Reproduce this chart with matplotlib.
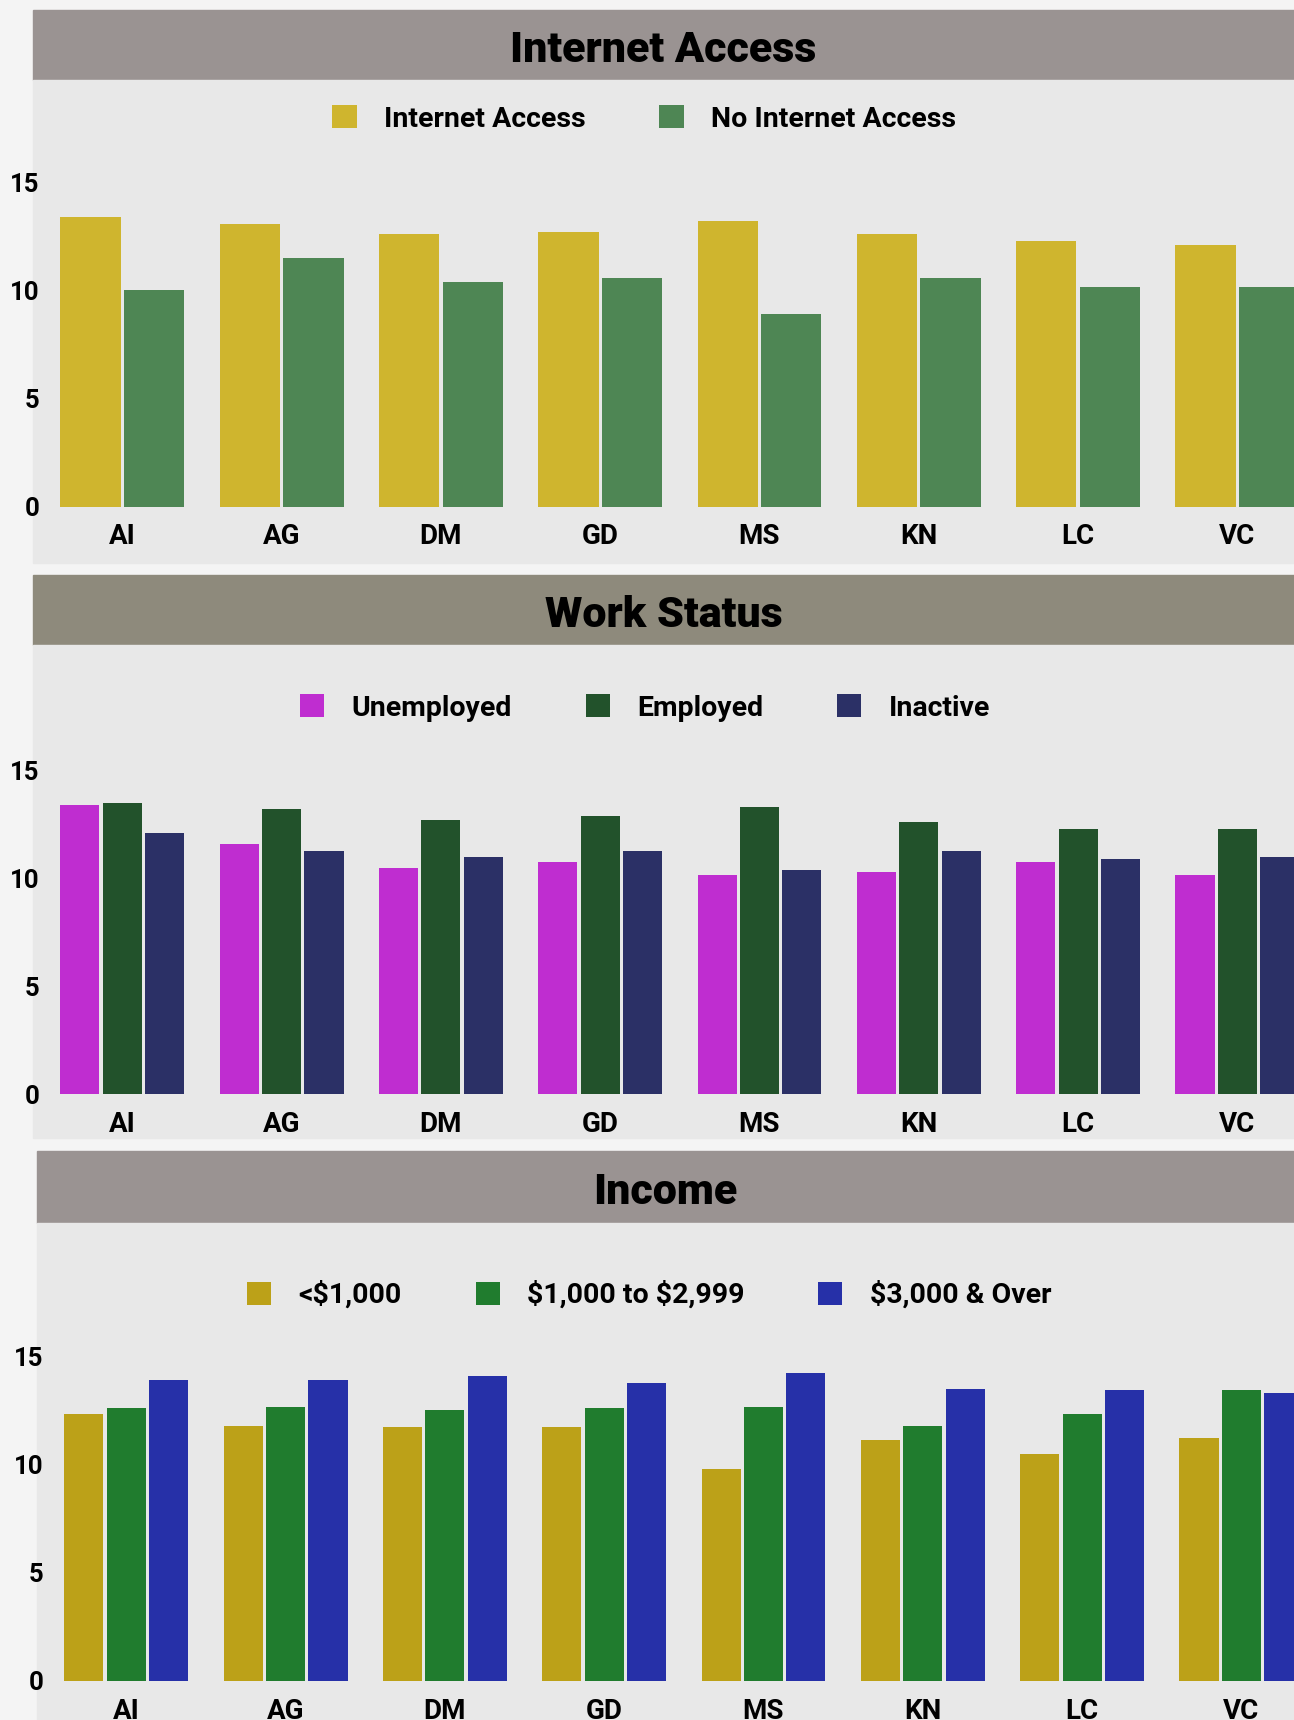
import matplotlib.pyplot as plt
from matplotlib.patches import Rectangle
import numpy as np

plt.rcParams['font.family'] = ['Roboto', 'DejaVu Sans']

# data
countries = ['AI', 'AG', 'DM', 'GD', 'MS', 'KN', 'LC', 'VC']

internet_labels = ['Internet Access', 'No Internet Access']
internet_yes = [13.39, 13.06, 12.59, 12.69, 13.21, 12.59, 12.28, 12.08]
internet_no = [10.03, 11.48, 10.37, 10.55, 8.92, 10.55, 10.13, 10.13]

work_labels = ['Unemployed', 'Employed', 'Inactive']
unemployed = [13.43, 11.63, 10.51, 10.79, 10.19, 10.33, 10.79, 10.19]
employed = [13.52, 13.24, 12.73, 12.92, 13.34, 12.64, 12.32, 12.32]
inactive = [12.13, 11.30, 11.01, 11.30, 10.41, 11.30, 10.93, 11.01]

income_labels = [r'<\$1,000', r'\$1,000 to \$2,999', r'\$3,000 & Over']
income_low = [12.32, 11.81, 11.73, 11.73, 9.78, 11.13, 10.48, 11.21]
income_mid = [12.60, 12.68, 12.51, 12.60, 12.68, 11.81, 12.32, 13.44]
income_high = [13.90, 13.90, 14.12, 13.79, 14.22, 13.52, 13.44, 13.30]

W, H = 1294, 1720
fig = plt.figure(figsize=(W / 100, H / 100), dpi=100, facecolor='#f4f4f4')


def fx(x):
    return x / W


def fy(y):
    return 1 - y / H


def panel(title, bar_col, top, bar_bot, bg_bot, dx, zero, fifteen, leg_x, leg_y,
          names, series, colors, col_space):
    left = 33 + dx
    # title bar and panel background
    fig.add_artist(Rectangle((fx(left), fy(bar_bot)), fx(W - left), (bar_bot - top) / H,
                             transform=fig.transFigure, color=bar_col, zorder=0))
    fig.add_artist(Rectangle((fx(left), fy(bg_bot)), fx(W - left), (bg_bot - bar_bot) / H,
                             transform=fig.transFigure, color='#e8e8e8', zorder=0))
    fig.text(fx(left + (W - left) / 2), fy((top + bar_bot) / 2 + 1), title, ha='center',
             va='center_baseline', fontsize=31, fontweight='black', color='black')

    ax_left = 42 + dx
    c0 = 122.3 + dx
    step_px = 159.3
    ax = fig.add_axes([fx(ax_left), fy(zero), fx(W - ax_left), (zero - fifteen) / H])
    ax.set_facecolor('none')
    ax.set_xlim((ax_left - c0) / step_px, (W - c0) / step_px)
    ax.set_ylim(0, 15)

    n = len(series)
    gap = 0.0206
    bw = (0.778 - gap * (n - 1)) / n
    x = np.arange(len(countries))
    bars = []
    for j, (vals, col) in enumerate(zip(series, colors)):
        off = (j - (n - 1) / 2) * (bw + gap)
        b = ax.bar(x + off, vals, bw, color=col, label=names[j], clip_on=False)
        bars.append(b)

    for s in ax.spines.values():
        s.set_visible(False)
    ax.set_xticks(x)
    ax.set_xticklabels(countries, fontsize=20, fontweight='bold')
    ax.set_yticks([0, 5, 10, 15])
    ax.set_yticklabels(['0', '5', '10', '15'], fontsize=18.5, fontweight='bold')
    ax.tick_params(axis='x', length=0, pad=12)
    ax.tick_params(axis='y', length=0, pad=2)

    ax.legend(handles=bars, loc='center', bbox_to_anchor=(fx(leg_x), fy(leg_y)),
              bbox_transform=fig.transFigure, ncol=n, frameon=False,
              handlelength=0.85, handleheight=0.85, handletextpad=0.95,
              columnspacing=col_space, prop={'weight': 'semibold', 'size': 20.5})
    return ax


panel('Internet Access', '#9a9392', 10, 80, 563, 0, 506.6, 182, 644, 119,
      internet_labels, [internet_yes, internet_no], ['#cfb52e', '#4e8654'], 2.6)

panel('Work Status', '#8e8a7c', 575, 645, 1138, 0, 1094.4, 771, 645, 708,
      work_labels, [unemployed, employed, inactive], ['#bf2dd0', '#22522b', '#2b3066'], 2.6)

panel('Income', '#9a9392', 1151, 1223, 1720, 4, 1681, 1356.5, 649, 1295,
      income_labels, [income_low, income_mid, income_high], ['#bca118', '#207c2e', '#2630a8'], 2.6)

fig.savefig('out.png', dpi=100, facecolor=fig.get_facecolor())
